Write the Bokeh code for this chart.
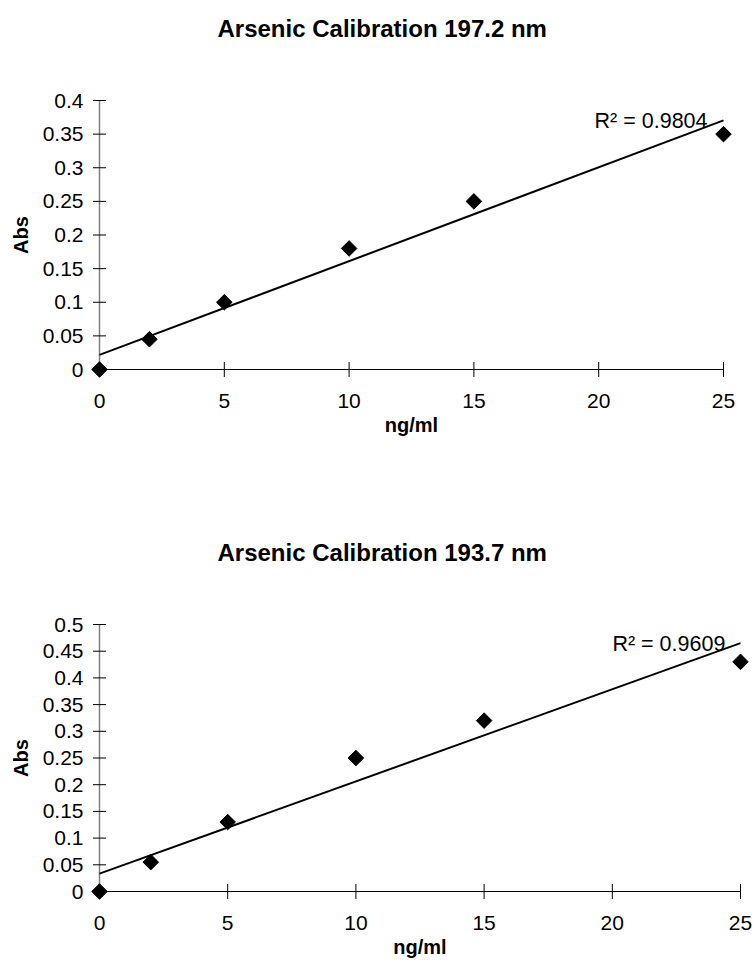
import numpy as np
from bokeh.plotting import figure
from bokeh.layouts import column
from bokeh.models import Range1d, Label
from bokeh.core.properties import value
from bokeh.embed import file_html
from bokeh.resources import INLINE

# ---- data ----
conc = [0, 2, 5, 10, 15, 25]
abs_1972 = [0.0, 0.045, 0.10, 0.18, 0.25, 0.35]
abs_1937 = [0.0, 0.055, 0.13, 0.25, 0.32, 0.43]
x_ticks = [0, 5, 10, 15, 20, 25]
x_tick_labels = ["0", "5", "10", "15", "20", "25"]
y_ticks_1972 = [0, 0.05, 0.1, 0.15, 0.2, 0.25, 0.3, 0.35, 0.4]
y_tick_labels_1972 = ["0", "0.05", "0.1", "0.15", "0.2", "0.25", "0.3", "0.35", "0.4"]
y_ticks_1937 = [0, 0.05, 0.1, 0.15, 0.2, 0.25, 0.3, 0.35, 0.4, 0.45, 0.5]
y_tick_labels_1937 = ["0", "0.05", "0.1", "0.15", "0.2", "0.25", "0.3", "0.35",
                      "0.4", "0.45", "0.5"]
titles = ["Arsenic Calibration 197.2 nm", "Arsenic Calibration 193.7 nm"]
r2_texts = ["R\u00b2 = 0.9804", "R\u00b2 = 0.9609"]
x_label = "ng/ml"
y_label = "Abs"

FONT = "Liberation Sans"
W = 754


def make(title, yvals, yticks, ylabels, r2, height, page_top,
         px_x0, px_per_x, px_y0, px_per_y, r2_x, r2_y):
    # px_x0 / px_y0: page pixel of the data origin; px_per_*: pixels per unit
    x0, x1 = x_ticks[0], x_ticks[-1]
    y0, y1 = yticks[0], yticks[-1]
    xr = Range1d(-px_x0 / px_per_x, (W - px_x0) / px_per_x)
    yr = Range1d((px_y0 - (page_top + height)) / px_per_y,
                 (px_y0 - page_top) / px_per_y)
    p = figure(width=W, height=height, x_range=xr, y_range=yr,
               output_backend="svg", toolbar_location=None,
               min_border=0)
    p.axis.visible = False
    p.outline_line_color = None
    p.grid.visible = False
    p.background_fill_color = "white"
    p.border_fill_color = "white"

    # axis lines and crossing ticks at the data origin
    p.line([x0, x1], [y0, y0], line_color="black", line_width=1.2)
    p.line([x0, x0], [y0, y1], line_color="#808080", line_width=1.5)
    p.scatter(x_ticks, [y0] * len(x_ticks), marker="dash", size=15,
              angle=np.pi / 2, line_color="black", line_width=1)
    p.scatter([x0] * len(yticks), yticks, marker="dash", size=13,
              line_color="black", line_width=1)

    # tick labels
    p.text(x=x_ticks, y=[y0] * len(x_ticks), text=x_tick_labels,
           text_align="center", text_baseline="middle", y_offset=31,
           text_font=value(FONT), text_font_size=value("21px"),
           text_color="black")
    p.text(x=[x0] * len(yticks), y=yticks, text=ylabels,
           text_align="right", text_baseline="middle", x_offset=-16,
           text_font=value(FONT), text_font_size=value("21px"),
           text_color="black")

    # axis titles
    p.text(x=[(x0 + x1) / 2], y=[y0], text=[x_label], text_align="center",
           text_baseline="middle", y_offset=55, text_font=value(FONT),
           text_font_size=value("20px"), text_font_style="bold",
           text_color="black")
    p.text(x=[x0], y=[(y0 + y1) / 2], text=[y_label], text_align="center",
           text_baseline="middle", x_offset=-79, angle=np.pi / 2,
           text_font=value(FONT), text_font_size=value("20px"),
           text_font_style="bold", text_color="black")

    # chart title
    p.text(x=[x0], y=[y1], text=[title], text_align="left",
           text_baseline="middle", x_offset=118, y_offset=-72,
           text_font=value(FONT), text_font_size=value("24px"),
           text_font_style="bold", text_color="black")

    # trend line (least squares)
    slope, intercept = np.polyfit(conc, yvals, 1)
    xs = np.array([x0, x1], dtype=float)
    p.line(xs, slope * xs + intercept, line_color="black", line_width=2)

    p.scatter(conc, yvals, marker="square", size=11, angle=np.pi / 4,
              fill_color="black", line_color="black")

    p.add_layout(Label(x=r2_x, y=r2_y, text=r2, text_align="right",
                       text_baseline="middle", text_font=FONT,
                       text_font_size="21.5px", text_color="black"))
    return p


# top: x 0..25 -> page 99..723 ; y 0..0.4 -> page 369..100
p1 = make(titles[0], abs_1972, y_ticks_1972, y_tick_labels_1972, r2_texts[0],
          height=516, page_top=0, px_x0=99, px_per_x=624 / 25,
          px_y0=369, px_per_y=269 / 0.4, r2_x=24.36, r2_y=0.3695)
# bottom: x 0..25 -> page 99..740 ; y 0..0.5 -> page 891..624
p2 = make(titles[1], abs_1937, y_ticks_1937, y_tick_labels_1937, r2_texts[1],
          height=454, page_top=516, px_x0=99, px_per_x=641 / 25,
          px_y0=891, px_per_y=267 / 0.5, r2_x=24.41, r2_y=0.4644)

layout = column(p1, p2, spacing=0)
open("out.html", "w").write(file_html(layout, INLINE))
